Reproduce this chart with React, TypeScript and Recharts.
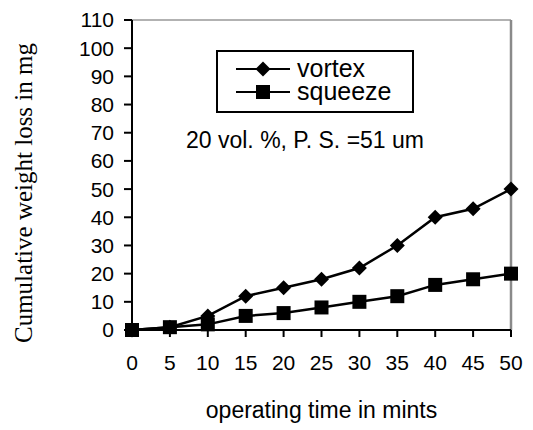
import { LineChart, Line, XAxis, YAxis, Legend, ReferenceLine } from 'recharts';

// operating time (mints) and cumulative weight loss (mg)
const TIME = [0, 5, 10, 15, 20, 25, 30, 35, 40, 45, 50];
const VORTEX = [0, 1, 5, 12, 15, 18, 22, 30, 40, 43, 50];
const SQUEEZE = [0, 1, 2, 5, 6, 8, 10, 12, 16, 18, 20];
const Y_TICKS = [0, 10, 20, 30, 40, 50, 60, 70, 80, 90, 100, 110];

const data = TIME.map((t, i) => ({ t, vortex: VORTEX[i], squeeze: SQUEEZE[i] }));

const SANS = '"Liberation Sans", Arial, sans-serif';
const SERIF = '"Liberation Serif", "Times New Roman", serif';

const Diamond = ({ cx, cy, size = 7.5 }: any) => (
  <path d={`M${cx},${cy - size}L${cx + size},${cy}L${cx},${cy + size}L${cx - size},${cy}Z`} fill="#000" />
);

const Square = ({ cx, cy, size = 7 }: any) => (
  <rect x={cx - size} y={cy - size} width={size * 2} height={size * 2} fill="#000" />
);

// legend box and the note are drawn as one overlay
function Overlay() {
  return (
    <svg width={533} height={430} style={{ display: 'block' }}>
      <rect x={217} y={51} width={196} height={61} fill="#fff" stroke="#000" strokeWidth={2} />
      <line x1={236} x2={290} y1={69} y2={69} stroke="#000" strokeWidth={2} />
      <Diamond cx={263} cy={69} size={7.5} />
      <text x={297} y={77} fontFamily={SANS} fontSize={25} fill="#000">vortex</text>
      <line x1={236} x2={290} y1={92} y2={92} stroke="#000" strokeWidth={2} />
      <Square cx={263} cy={92} size={7} />
      <text x={297} y={100} fontFamily={SANS} fontSize={25} fill="#000">squeeze</text>
      <text x={305} y={148} textAnchor="middle" fontFamily={SANS} fontSize={23} fill="#000">
        20 vol. %, P. S. =51 um
      </text>
    </svg>
  );
}

export default function App() {
  return (
    <div style={{ position: 'absolute', left: 0, top: 0, background: '#fff' }}>
      <LineChart width={533} height={430} data={data} margin={{ top: 20, right: 22, bottom: 0, left: 0 }}>
        <XAxis
          dataKey="t"
          type="number"
          domain={[0, 50]}
          ticks={TIME}
          interval={0}
          height={100}
          tickSize={7}
          tickMargin={18}
          axisLine={{ stroke: '#000', strokeWidth: 2 }}
          tickLine={{ stroke: '#000', strokeWidth: 2 }}
          tick={{ fill: '#000', fontSize: 21, fontFamily: SANS }}
          label={{ value: 'operating time in mints', position: 'insideBottom', offset: 12, fill: '#000', fontSize: 23, fontFamily: SANS }}
        />
        <YAxis
          type="number"
          domain={[0, 110]}
          ticks={Y_TICKS}
          interval={0}
          width={132}
          tickSize={8}
          tickMargin={10}
          axisLine={{ stroke: '#000', strokeWidth: 2 }}
          tickLine={{ stroke: '#000', strokeWidth: 2 }}
          tick={{ fill: '#000', fontSize: 21, fontFamily: SANS }}
          label={{
            content: () => (
              <text
                x={23}
                y={193}
                transform="rotate(-90 23 193)"
                textAnchor="middle"
                dominantBaseline="central"
                fontFamily={SERIF}
                fontSize={25}
                fill="#000"
              >
                Cumulative weight loss in mg
              </text>
            ),
          }}
        />
        <ReferenceLine y={110} stroke="#999" strokeWidth={1.5} />
        <ReferenceLine x={50} stroke="#8a8a8a" strokeWidth={2.5} />
        <Legend
          layout="horizontal"
          verticalAlign="middle"
          align="center"
          content={() => <Overlay />}
          wrapperStyle={{ left: 0, top: 0, width: 533, height: 430, pointerEvents: 'none' }}
        />
        <Line
          dataKey="vortex"
          stroke="#000"
          strokeWidth={2.5}
          isAnimationActive={false}
          dot={(p: any) => <Diamond key={`v-${p.index}`} cx={p.cx} cy={p.cy} />}
        />
        <Line
          dataKey="squeeze"
          stroke="#000"
          strokeWidth={2.5}
          isAnimationActive={false}
          dot={(p: any) => <Square key={`s-${p.index}`} cx={p.cx} cy={p.cy} />}
        />
      </LineChart>
    </div>
  );
}
